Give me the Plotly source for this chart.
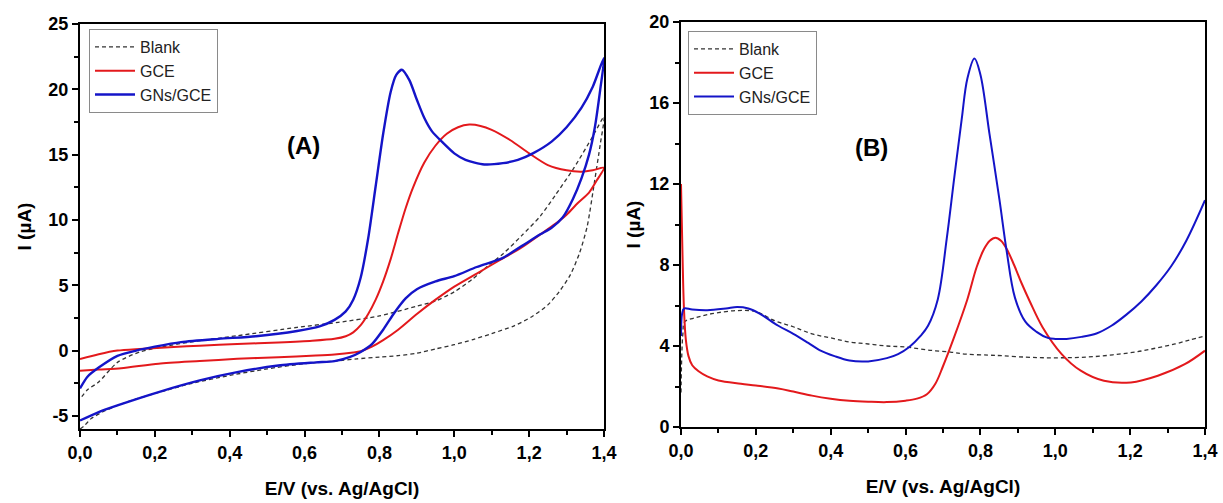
import plotly.graph_objects as go
import numpy as np

# ---------------- Panel (A): cyclic voltammograms ----------------
# Blank (dashed): anodic branch 0 -> 1.4, then return 1.4 -> 0
blank_a_E = [0.00, 0.01, 0.03, 0.06, 0.10, 0.15, 0.21, 0.30, 0.40, 0.50, 0.60, 0.70, 0.74,
             0.80, 0.85, 0.90, 0.95, 1.00, 1.05, 1.10, 1.16, 1.21, 1.25, 1.28, 1.31, 1.335,
             1.355, 1.375, 1.39, 1.40,
             1.37, 1.32, 1.27, 1.23, 1.18, 1.13, 1.09, 1.05, 1.00, 0.95, 0.90, 0.80, 0.69,
             0.58, 0.42, 0.26, 0.16, 0.10, 0.05, 0.02, 0.00]
blank_a_I = [-6.0, -5.8, -5.2, -4.7, -4.2, -3.7, -3.2, -2.5, -1.9, -1.4, -1.0, -0.75, -0.63,
             -0.5, -0.38, -0.2, 0.13, 0.45, 0.85, 1.3, 1.9, 2.65, 3.5, 4.5, 5.8, 7.5,
             9.5, 13.0, 15.8, 17.9,
             16.4, 14.0, 11.9, 10.3, 8.8, 7.4, 6.5, 5.5, 4.5, 3.8, 3.4, 2.66, 2.16,
             1.78, 1.14, 0.5, -0.1, -0.9, -2.4, -3.0, -3.7]

# GCE (red)
gce_a_E = [0.00, 0.05, 0.10, 0.16, 0.25, 0.32, 0.42, 0.53, 0.62, 0.68, 0.71, 0.73, 0.75, 0.77,
           0.79, 0.81, 0.83, 0.85, 0.87, 0.89, 0.92, 0.95, 0.98, 1.01, 1.04, 1.07, 1.10, 1.15,
           1.20, 1.25, 1.30, 1.34, 1.37, 1.40,
           1.38, 1.36, 1.33, 1.30, 1.27, 1.23, 1.18, 1.12, 1.06, 1.00, 0.95, 0.90, 0.85, 0.81,
           0.78, 0.75, 0.73, 0.68, 0.63, 0.53, 0.42, 0.32, 0.21, 0.11, 0.05, 0.00]
gce_a_I = [-0.65, -0.28, 0.0, 0.13, 0.28, 0.38, 0.5, 0.62, 0.75, 0.9, 1.1, 1.4, 1.95, 2.8,
           3.9, 5.3, 7.0, 9.0, 10.9, 12.5, 14.4, 15.7, 16.6, 17.1, 17.3, 17.2, 16.9, 16.1,
           15.1, 14.2, 13.8, 13.7, 13.8, 14.0,
           13.0, 12.1, 11.3, 10.4, 9.7, 8.9, 7.9, 6.9, 5.9, 4.9, 3.9, 2.8, 1.6, 0.8,
           0.3, -0.05, -0.15, -0.3, -0.38, -0.5, -0.63, -0.8, -1.0, -1.35, -1.45, -1.55]

# GNs/GCE (blue)
gns_a_E = [0.00, 0.02, 0.05, 0.10, 0.15, 0.20, 0.27, 0.37, 0.47, 0.58, 0.64, 0.68, 0.71, 0.73,
           0.75, 0.77, 0.79, 0.81, 0.83, 0.845, 0.86, 0.88, 0.90, 0.92, 0.94, 0.97, 1.00, 1.03,
           1.08, 1.13, 1.17, 1.21, 1.26, 1.30, 1.34, 1.37, 1.40,
           1.39, 1.375, 1.36, 1.34, 1.317, 1.29, 1.26, 1.23, 1.18, 1.13, 1.06, 1.00, 0.95,
           0.90, 0.87, 0.84, 0.81, 0.78, 0.75, 0.72, 0.68, 0.63, 0.53, 0.42, 0.32, 0.21,
           0.10, 0.05, 0.00]
gns_a_I = [-2.9, -2.0, -1.3, -0.4, 0.0, 0.3, 0.65, 0.9, 1.1, 1.5, 1.85, 2.35, 3.0, 3.9,
           5.6, 8.6, 12.6, 16.6, 19.8, 21.1, 21.5, 20.7, 19.2, 17.8, 16.8, 15.9, 15.1, 14.6,
           14.25, 14.35, 14.6, 15.1, 16.0, 17.1, 18.6, 20.2, 22.4,
           20.0, 17.0, 15.0, 13.2, 11.6, 10.2, 9.4, 8.9, 8.0, 7.1, 6.4, 5.7, 5.3,
           4.7, 4.0, 2.9, 1.6, 0.5, -0.1, -0.5, -0.8, -0.9, -1.14, -1.65, -2.28, -3.17,
           -4.19, -4.7, -5.35]

# ---------------- Panel (B): differential pulse voltammograms ----------------
blank_b_E = [0.000, 0.002, 0.005, 0.01, 0.04, 0.07, 0.10, 0.15, 0.20, 0.25, 0.30, 0.35, 0.40,
             0.45, 0.50, 0.55, 0.60, 0.66, 0.72, 0.76, 0.82, 0.86, 0.92, 0.97, 1.02, 1.07,
             1.12, 1.17, 1.22, 1.27, 1.32, 1.36, 1.40]
blank_b_I = [1.7, 3.5, 4.6, 5.2, 5.4, 5.55, 5.65, 5.75, 5.7, 5.25, 4.95, 4.6, 4.4,
             4.2, 4.1, 4.0, 3.95, 3.8, 3.7, 3.6, 3.55, 3.52, 3.45, 3.42, 3.42, 3.44,
             3.5, 3.6, 3.72, 3.9, 4.1, 4.3, 4.5]

gce_b_E = [0.000, 0.004, 0.008, 0.013, 0.02, 0.03, 0.047, 0.07, 0.10, 0.16, 0.20, 0.26, 0.30,
           0.35, 0.40, 0.45, 0.50, 0.55, 0.60, 0.63, 0.657, 0.68, 0.70, 0.729, 0.765, 0.79,
           0.81, 0.825, 0.84, 0.855, 0.87, 0.89, 0.91, 0.932, 0.966, 1.017, 1.068, 1.13, 1.202,
           1.274, 1.346, 1.40]
gce_b_I = [12.0, 8.5, 5.8, 4.3, 3.5, 3.05, 2.75, 2.5, 2.3, 2.14, 2.05, 1.9, 1.75,
           1.55, 1.4, 1.3, 1.25, 1.23, 1.3, 1.4, 1.62, 2.15, 3.0, 4.4, 6.3, 7.9,
           8.8, 9.2, 9.35, 9.2, 8.8, 8.0, 7.1, 6.2, 4.93, 3.6, 2.78, 2.28, 2.2,
           2.53, 3.1, 3.77]

gns_b_E = [0.000, 0.003, 0.008, 0.03, 0.07, 0.12, 0.15, 0.18, 0.21, 0.26, 0.30, 0.34, 0.37,
           0.41, 0.45, 0.50, 0.55, 0.58, 0.61, 0.64, 0.66, 0.686, 0.71, 0.73, 0.75, 0.765,
           0.784, 0.80, 0.824, 0.851, 0.87, 0.892, 0.92, 0.95, 0.98, 1.00, 1.03, 1.07, 1.11,
           1.15, 1.19, 1.23, 1.27, 1.31, 1.35, 1.40]
gns_b_I = [4.5, 5.6, 5.85, 5.8, 5.77, 5.85, 5.92, 5.85, 5.6, 5.0, 4.6, 4.15, 3.8,
           3.5, 3.28, 3.24, 3.4, 3.6, 3.95, 4.5, 5.0, 6.3, 9.3, 12.3, 15.2, 17.2,
           18.2, 17.4, 14.5, 11.2, 8.7, 6.4, 5.2, 4.7, 4.4, 4.35, 4.35, 4.45, 4.62,
           5.0, 5.55, 6.2, 7.0, 7.95, 9.2, 11.2]

# ---------------- Axis ticks ----------------
x_tickvals = [0.0, 0.2, 0.4, 0.6, 0.8, 1.0, 1.2, 1.4]
x_ticktext = ["0,0", "0,2", "0,4", "0,6", "0,8", "1,0", "1,2", "1,4"]
ya_tickvals = [-5, 0, 5, 10, 15, 20, 25]
ya_ticktext = ["-5", "0", "5", "10", "15", "20", "25"]
yb_tickvals = [0, 4, 8, 12, 16, 20]
yb_ticktext = ["0", "4", "8", "12", "16", "20"]

series_names = ["Blank", "GCE", "GNs/GCE"]

RED = "#e3191c"
BLUE = "#1414c8"
DASH = "#333333"
FONT = "Liberation Sans, Arial, sans-serif"

fig = go.Figure()

def add(E, I, name, color, width, dash, xa, ya, legend, smoothing):
    fig.add_trace(go.Scatter(
        x=E, y=I, name=name, mode="lines", xaxis=xa, yaxis=ya, legend=legend,
        line=dict(color=color, width=width, dash=dash, shape="spline", smoothing=smoothing),
    ))

add(blank_a_E, blank_a_I, series_names[0], DASH, 1.3, "4px,3px", "x", "y", "legend", 0.7)
add(gce_a_E, gce_a_I, series_names[1], RED, 2.0, "solid", "x", "y", "legend", 0.7)
add(gns_a_E, gns_a_I, series_names[2], BLUE, 2.4, "solid", "x", "y", "legend", 0.7)

add(blank_b_E, blank_b_I, series_names[0], DASH, 1.3, "4px,3px", "x2", "y2", "legend2", 1.0)
add(gce_b_E, gce_b_I, series_names[1], RED, 2.0, "solid", "x2", "y2", "legend2", 1.0)
add(gns_b_E, gns_b_I, series_names[2], BLUE, 2.0, "solid", "x2", "y2", "legend2", 1.0)

W, H = 1223, 503
tickfont = dict(family=FONT, size=18, color="black", weight="bold")
titlefont = dict(family=FONT, size=19, color="black", weight="bold")

def minor_between(vals):
    v = np.array(vals, dtype=float)
    return list((v[:-1] + v[1:]) / 2)

def xaxis(domain, anchor):
    return dict(
        domain=domain, anchor=anchor, range=[0, 1.4], automargin=False,
        tickmode="array", tickvals=x_tickvals, ticktext=x_ticktext,
        ticks="outside", ticklen=6, tickwidth=1.5, tickcolor="black",
        minor=dict(tickmode="array", tickvals=minor_between(x_tickvals), ticks="outside",
                   ticklen=4, tickwidth=1.5, tickcolor="black"),
        showline=True, linecolor="black", linewidth=2, mirror=True,
        showgrid=False, zeroline=False, tickfont=tickfont,
        title=dict(text="E/V (vs. Ag/AgCl)", font=titlefont, standoff=20),
    )

def yaxis(domain, anchor, rng, tv, tt, standoff):
    return dict(
        domain=domain, anchor=anchor, range=rng, automargin=False,
        tickmode="array", tickvals=tv, ticktext=tt,
        ticks="outside", ticklen=6, tickwidth=1.5, tickcolor="black",
        minor=dict(tickmode="array", tickvals=minor_between(tv), ticks="outside",
                   ticklen=4, tickwidth=1.5, tickcolor="black"),
        showline=True, linecolor="black", linewidth=2, mirror=True,
        showgrid=False, zeroline=False, tickfont=tickfont,
        title=dict(text="I (µA)", font=titlefont, standoff=standoff),
    )

legend_common = dict(
    xanchor="left", yanchor="top", bgcolor="white", bordercolor="#8a8a8a", borderwidth=1,
    font=dict(family=FONT, size=16, color="#222"), tracegroupgap=0, itemwidth=40,
)

fig.update_layout(
    width=W, height=H, autosize=False,
    margin=dict(l=0, r=0, t=0, b=0, autoexpand=False),
    paper_bgcolor="white", plot_bgcolor="white",
    showlegend=True,
    xaxis=xaxis([80 / W, 604 / W], "y"),
    yaxis=yaxis([1 - 429 / H, 1 - 24 / H], "x", [-6, 25], ya_tickvals, ya_ticktext, 12),
    xaxis2=xaxis([681 / W, 1205 / W], "y2"),
    yaxis2=yaxis([1 - 427 / H, 1 - 22 / H], "x2", [0, 20], yb_tickvals, yb_ticktext, 4),
    legend=dict(x=89 / W, y=1 - 29 / H, **legend_common),
    legend2=dict(x=688 / W, y=1 - 31 / H, **legend_common),
    annotations=[
        dict(text="(A)", x=285 / W, y=1 - 130 / H, xref="paper", yref="paper",
             showarrow=False, font=dict(family=FONT, size=24, color="black", weight="bold")),
        dict(text="(B)", x=890 / W, y=1 - 132 / H, xref="paper", yref="paper",
             showarrow=False, font=dict(family=FONT, size=24, color="black", weight="bold")),
    ],
)

fig.write_html("out.html")
